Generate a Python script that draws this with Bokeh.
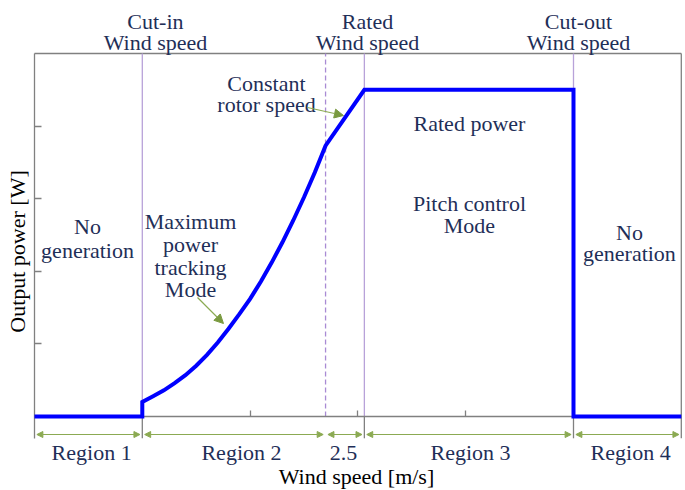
import numpy as np
from bokeh.plotting import figure
from bokeh.models import Range1d, LinearAxis, FixedTicker, Arrow, NormalHead, ColumnDataSource
from bokeh.core.properties import value
from bokeh.embed import file_html
from bokeh.resources import INLINE

# ---------------- data ----------------
wind_speed = [0.0, 1.0, 1.0, 1.1, 1.2, 1.3, 1.4, 1.5, 1.6, 1.7, 1.8, 1.9, 2.0,
              2.1, 2.2, 2.3, 2.4, 2.5, 2.6, 2.7, 3.06, 5.0, 5.0, 6.0]
output_power = [0.0, 0.0, 0.20, 0.28, 0.36, 0.46, 0.57, 0.70, 0.85, 1.02, 1.21, 1.41, 1.62,
                1.86, 2.12, 2.40, 2.70, 3.02, 3.36, 3.73, 4.50, 4.50, 0.0, 0.0]

cut_in = 1.0
constant_speed_start = 2.70
rated = 3.06
cut_out = 5.0
x_max = 6.0
y_max = 5.0
x_ticks = [1, 2, 3, 4, 5]
y_ticks = [1, 2, 3, 4]

boundaries = [0.0, 1.0, 2.70, 3.06, 5.0, 6.0]
region_labels = ["Region 1", "Region 2", "2.5", "Region 3", "Region 4"]
region_label_x = [0.53, 1.92, 2.866, 4.045, 5.53]

top_labels = ["Cut-in", "Rated", "Cut-out"]
top_label_x = [1.122, 3.089, 5.046]

# ---------------- styles ----------------
FONT = value("Liberation Serif")
NAVY = "#1F2F58"
GREY = "#808080"
PURPLE = "#B8A2D9"
DASH_PURPLE = "#A98BD4"
GREEN = "#8BAA52"
BLUE = "#0000FF"
FS = "22px"

p = figure(width=685, height=490,
           x_range=Range1d(-0.3154, 6.0390), y_range=Range1d(-1.019, 5.730),
           output_backend="svg", toolbar_location=None,
           x_axis_type=None, y_axis_type=None, min_border=0)
p.outline_line_color = None
p.background_fill_color = "white"
p.border_fill_color = "white"

below_y = -0.3

# axes drawn through the data origin
xax = LinearAxis(fixed_location=0, bounds=(0, x_max), ticker=FixedTicker(ticks=x_ticks),
                 major_tick_in=6, major_tick_out=0, minor_tick_in=0, minor_tick_out=0,
                 axis_line_color=GREY, axis_line_width=1.3, major_tick_line_color=GREY,
                 major_tick_line_width=1.3,
                 major_label_text_font_size="0px", major_label_text_alpha=0,
                 major_label_standoff=0)
p.add_layout(xax, "below")
yax = LinearAxis(fixed_location=0, bounds=(below_y, y_max), ticker=FixedTicker(ticks=y_ticks),
                 major_tick_in=7, major_tick_out=0, minor_tick_in=0, minor_tick_out=0,
                 axis_line_color=GREY, axis_line_width=1.3, major_tick_line_color=GREY,
                 major_tick_line_width=1.3,
                 major_label_text_font_size="0px", major_label_text_alpha=0,
                 major_label_standoff=0)
p.add_layout(yax, "left")

# frame: top and right edges
p.segment(x0=[0, x_max], y0=[y_max, below_y], x1=[x_max, x_max], y1=[y_max, y_max],
          line_color=GREY, line_width=1.3)

# boundary marks below the axis
p.segment(x0=[cut_in, rated, cut_out], y0=[below_y] * 3,
          x1=[cut_in, rated, cut_out], y1=[0] * 3, line_color=GREY, line_width=1.3)

# purple vertical lines
p.segment(x0=[cut_in, rated, cut_out], y0=[0] * 3, x1=[cut_in, rated, cut_out], y1=[y_max] * 3,
          line_color=PURPLE, line_width=1.3)
p.segment(x0=[constant_speed_start], y0=[0], x1=[constant_speed_start], y1=[y_max],
          line_color=DASH_PURPLE, line_width=1.3, line_dash="5 3")

# power curve
r = p.line(wind_speed, output_power, line_color=BLUE, line_width=4, line_join="miter")
r.level = "overlay"

# region arrows
gap = 0.022
arrow_y = -0.248
src = ColumnDataSource(dict(x0=[b + gap for b in boundaries[:-1]],
                            x1=[b - gap for b in boundaries[1:]],
                            y=[arrow_y] * len(region_labels)))
p.add_layout(Arrow(start=NormalHead(size=6, fill_color=GREEN, line_color=GREEN),
                   end=NormalHead(size=6, fill_color=GREEN, line_color=GREEN),
                   x_start="x0", y_start="y", x_end="x1", y_end="y", source=src,
                   line_color=GREEN, line_width=1.2))

p.text(x=region_label_x, y=[-0.496] * 5, text=region_labels, text_font=FONT,
       text_font_size=FS, text_color=NAVY, text_align="center", text_baseline="alphabetic")

# top labels
p.text(x=top_label_x, y=[5.441] * 3, text=top_labels, text_font=FONT, text_font_size=FS,
       text_color=NAVY, text_align="center", text_baseline="alphabetic")
p.text(x=top_label_x, y=[5.152] * 3, text=["Wind speed"] * 3, text_font=FONT, text_font_size=FS,
       text_color=NAVY, text_align="center", text_baseline="alphabetic")

# in-plot annotations
ann_x = [0.492, 0.492, 1.447, 1.447, 1.447, 1.447, 2.152, 2.152,
         4.035, 4.035, 4.035, 5.519, 5.519]
ann_y = [2.617, 2.287, 2.686, 2.369, 2.052, 1.749, 4.587, 4.298,
         4.036, 2.934, 2.631, 2.534, 2.245]
ann_t = ["No", "generation", "Maximum", "power", "tracking", "Mode", "Constant", "rotor speed",
         "Rated power", "Pitch control", "Mode", "No", "generation"]
p.text(x=ann_x, y=ann_y, text=ann_t, text_font=FONT, text_font_size=FS, text_color=NAVY,
       text_align="center", text_baseline="alphabetic")

# pointer arrows
for xs, ys, xe, ye in [(2.532, 4.256, 2.866, 4.146), (1.512, 1.639, 1.753, 1.281)]:
    p.add_layout(Arrow(end=NormalHead(size=9, fill_color="#7A9A40", line_color="#7A9A40"),
                       x_start=xs, y_start=ys, x_end=xe, y_end=ye,
                       line_color=GREEN, line_width=1.2))

# axis titles
p.text(x=[2.987], y=[-0.826], text=["Wind speed [m/s]"], text_font=FONT, text_font_size=FS,
       text_color="black", text_align="center", text_baseline="alphabetic")
p.text(x=[-0.158], y=[2.273], text=["Output power [W]"], text_font=FONT, text_font_size=FS,
       text_color="black", text_align="center", text_baseline="middle", angle=np.pi / 2)

open("out.html", "w").write(file_html(p, INLINE))
